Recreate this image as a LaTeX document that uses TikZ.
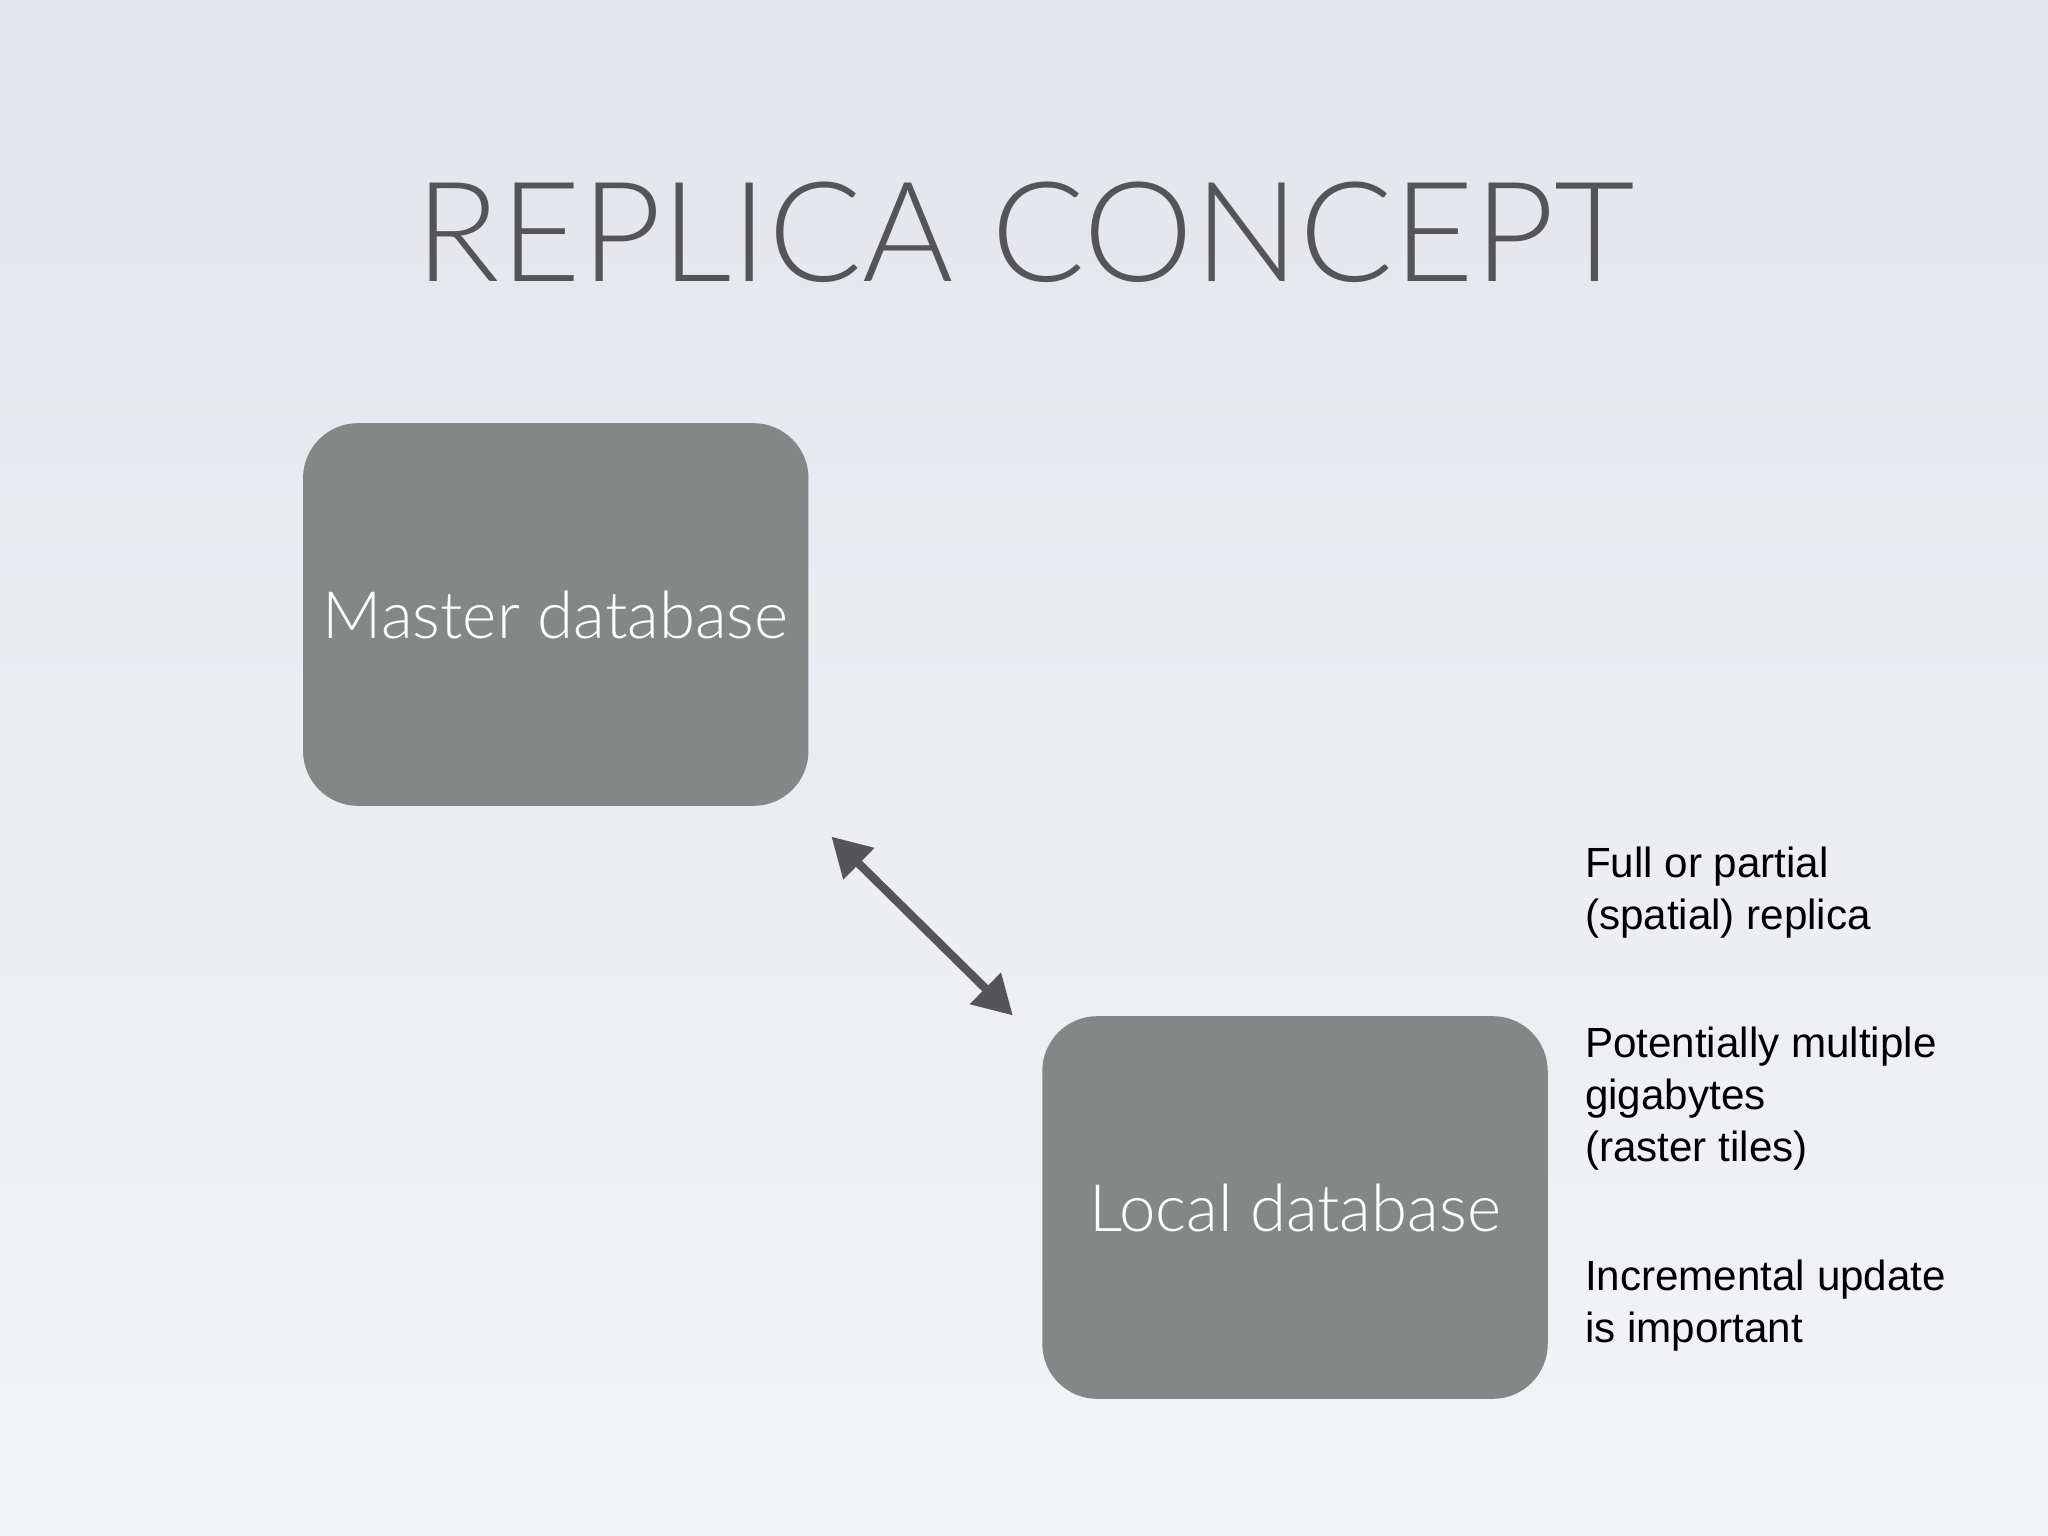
\documentclass[tikz,border=0pt]{standalone}
\usepackage{fontspec}
\setmainfont{Lato Light}
\newfontfamily\notefont{Liberation Sans}
\usetikzlibrary{calc,arrows.meta}
\definecolor{boxgray}{RGB}{131,136,134}
\definecolor{inkgray}{RGB}{85,85,87}
\definecolor{bgtop}{RGB}{226,229,234}
\definecolor{bgbottom}{RGB}{243,244,247}
\begin{document}
\begin{tikzpicture}[x=0.013061cm,y=-0.013061cm,
    dbbox/.style={fill=boxgray,rounded corners=0.55cm,inner sep=0pt,minimum width=387*0.013061cm,minimum height=293*0.013061cm,text=white,font=\fontsize{18.6}{22}\selectfont},
    note/.style={anchor=north west,align=left,font=\notefont\fontsize{12}{14.8}\selectfont,text=black,inner sep=0pt}]

    % background
    \shade[top color=bgtop, bottom color=bgbottom] (0,0) rectangle (1568,1176);
    \useasboundingbox (0,0) rectangle (1568,1176);

    \node[text=inkgray,font=\fontsize{39.6}{48}\selectfont] (title) at (785,178) {REPLICA CONCEPT};

    \node[dbbox] (master) at (425.5,470.5) {Master database};
    \node[dbbox] (local) at (991.5,924.5) {Local database};

    \coordinate (mtip) at ($(master.south east)+(17,23)$);
    \coordinate (ltip) at ($(local.north west)+(-22,0)$);
    \draw[inkgray,line width=2.4pt,{Triangle[length=11pt,width=12pt]}-{Triangle[length=11pt,width=12pt]}] (mtip) -- (ltip);

    \node[note] (full) at (1213,648) {Full or partial\\(spatial) replica};
    \node[note] (size) at (1213,786) {Potentially multiple\\gigabytes\\(raster tiles)};
    \node[note] (incr) at (1213,964) {Incremental update\\is important};
\end{tikzpicture}
\end{document}
